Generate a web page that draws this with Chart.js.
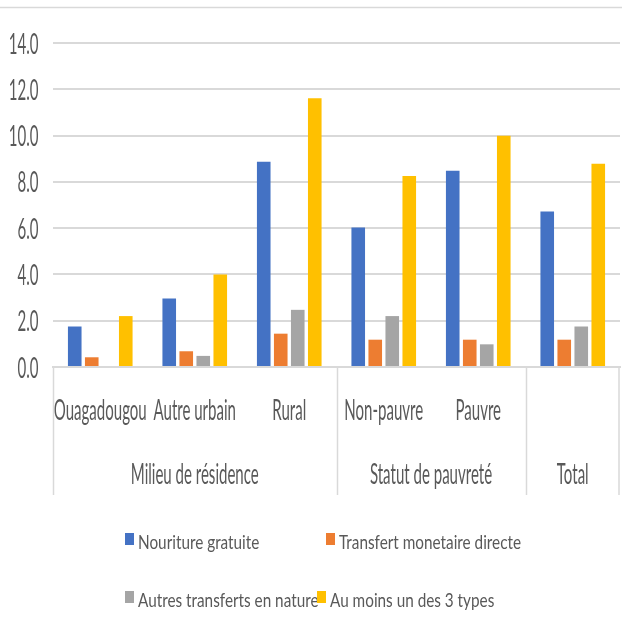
<!DOCTYPE html>
<html>
<head>
<meta charset="utf-8">
<script src="https://cdn.jsdelivr.net/npm/chart.js@4/dist/chart.umd.min.js"></script>
<style>
  html, body { margin: 0; padding: 0; background: #ffffff; }
  #wrap { width: 622px; height: 628px; position: relative; }
</style>
</head>
<body>
<div id="wrap"><canvas id="c" width="622" height="628"></canvas></div>
<script>
// ---- Data ----
const categories = ["Ouagadougou", "Autre urbain", "Rural", "Non-pauvre", "Pauvre", ""];
const groupLabels = ["Milieu de résidence", "Statut de pauvreté", "Total"];
const groupSpans = [3, 2, 1];
const seriesNames = ["Nouriture gratuite", "Transfert monetaire directe", "Autres transferts en nature", "Au moins un des 3 types"];
const nourritureGratuite = [1.75, 2.96, 8.87, 6.03, 8.48, 6.72];
const transfertMonetaire = [0.42, 0.68, 1.44, 1.18, 1.18, 1.18];
const autresTransferts = [null, 0.48, 2.47, 2.20, 0.98, 1.75];
const auMoinsUn = [2.20, 4.00, 11.61, 8.25, 9.99, 8.78];
const yTicks = [0, 2, 4, 6, 8, 10, 12, 14];

const colors = ["#4472C4", "#ED7D31", "#A5A5A5", "#FFC000"];
const FONT = "Lato, 'Open Sans', 'Liberation Sans', sans-serif";
const TEXT = "#595959";
const LINE = "#d9d9d9";
const AXIS_SIZE = 29;
const LEGEND_SIZE = 20;

const seriesValues = [nourritureGratuite, transfertMonetaire, autresTransferts, auMoinsUn];

// draw horizontally condensed text (the reference uses a condensed face)
function condensedText(ctx, text, x, y, align, sx) {
  ctx.save();
  ctx.translate(x, y);
  ctx.scale(sx, 1);
  ctx.textAlign = align;
  ctx.textBaseline = "alphabetic";
  ctx.fillText(text, 0, 0);
  ctx.restore();
}

const extras = {
  id: "extras",
  afterDraw(chart) {
    const ctx = chart.ctx;
    const x = chart.scales.x;
    const y = chart.scales.y;
    const area = chart.chartArea;
    ctx.save();
    // top border line
    ctx.strokeStyle = LINE;
    ctx.lineWidth = 1.5;
    ctx.beginPath();
    ctx.moveTo(0, 7.5);
    ctx.lineTo(chart.width, 7.5);
    ctx.stroke();

    // condensing factors
    ctx.font = AXIS_SIZE + "px " + FONT;
    const sxAxis = 93 / ctx.measureText("Ouagadougou").width;
    ctx.font = LEGEND_SIZE + "px " + FONT;
    const sxLegend = 182 / ctx.measureText("Transfert monetaire directe").width;

    // y tick labels
    ctx.fillStyle = TEXT;
    ctx.font = AXIS_SIZE + "px " + FONT;
    y.ticks.forEach(t => {
      condensedText(ctx, Number(t.value).toFixed(1), 38.5, y.getPixelForValue(t.value) + 10.5, "right", sxAxis);
    });

    // x category labels
    chart.data.labels.forEach((lab, i) => {
      if (lab) condensedText(ctx, lab, x.getPixelForValue(i), 420, "center", sxAxis);
    });

    // group separators and labels
    const boundary = (i) => {
      if (i <= 0) return area.left;
      if (i >= categories.length) return area.right;
      return (x.getPixelForValue(i - 1) + x.getPixelForValue(i)) / 2;
    };
    const yTop = area.bottom;
    const yBot = 495;
    let start = 0;
    ctx.lineWidth = 1.5;
    ctx.strokeStyle = LINE;
    const edges = [0];
    groupSpans.forEach(s => { start += s; edges.push(start); });
    edges.forEach(e => {
      const bx = Math.round(boundary(e)) + (e >= categories.length ? -1 : 0.5);
      ctx.beginPath();
      ctx.moveTo(bx, yTop);
      ctx.lineTo(bx, yBot);
      ctx.stroke();
    });
    for (let g = 0; g < groupLabels.length; g++) {
      const cx = (boundary(edges[g]) + boundary(edges[g + 1])) / 2;
      condensedText(ctx, groupLabels[g], cx, 484, "center", sxAxis);
    }

    // legend
    const legendPos = [[125, 549], [326, 549], [125, 607], [317, 607]];
    ctx.font = LEGEND_SIZE + "px " + FONT;
    chart.data.datasets.forEach((ds, i) => {
      const [lx, ly] = legendPos[i];
      ctx.fillStyle = ds.backgroundColor;
      ctx.fillRect(lx, ly - 16, 9, 12);
      ctx.fillStyle = TEXT;
      condensedText(ctx, ds.label, lx + 13, ly, "left", sxLegend);
    });
    ctx.restore();
  }
};

new Chart(document.getElementById("c"), {
  type: "bar",
  data: {
    labels: categories,
    datasets: seriesNames.map((name, i) => ({
      label: name,
      data: seriesValues[i],
      backgroundColor: colors[i],
      borderWidth: 0,
      categoryPercentage: 0.72,
      barPercentage: 0.8
    }))
  },
  options: {
    responsive: false,
    animation: false,
    layout: { padding: { top: 43, right: 2, left: 0, bottom: 0 } },
    plugins: {
      legend: { display: false },
      tooltip: { enabled: false }
    },
    scales: {
      x: {
        grid: { display: false, drawTicks: false },
        border: { display: true, color: LINE, width: 2 },
        ticks: { display: false },
        afterFit(scale) { scale.height = 628 - 367; }
      },
      y: {
        min: 0,
        max: 14,
        afterBuildTicks(scale) { scale.ticks = yTicks.map(v => ({ value: v })); },
        grid: { color: LINE, lineWidth: 2, drawTicks: false },
        border: { display: false },
        ticks: { display: false },
        afterFit(scale) { scale.width = 53; }
      }
    }
  },
  plugins: [extras]
});
</script>
</body>
</html>
